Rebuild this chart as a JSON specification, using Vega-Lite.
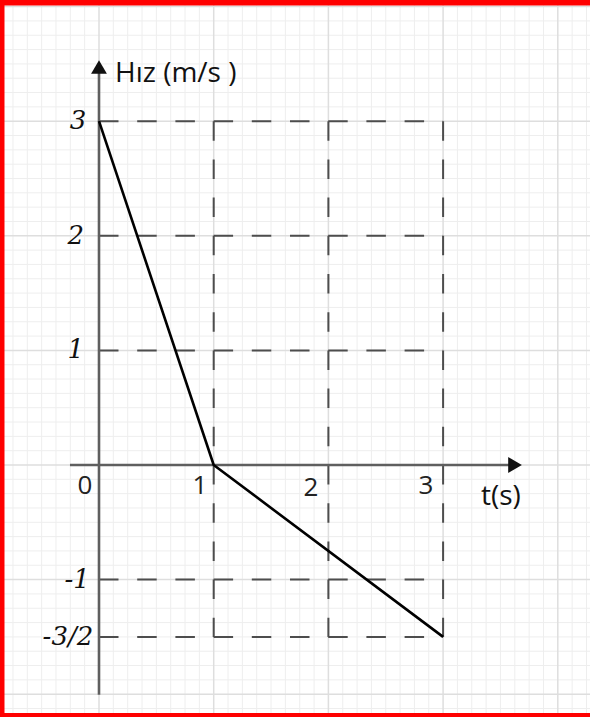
{
  "$schema": "https://vega.github.io/schema/vega-lite/v6.json",
  "width": 590,
  "height": 717,
  "autosize": {"type": "none"},
  "padding": 0,
  "background": "white",
  "config": {"view": {"stroke": null}},
  "datasets": {
    "minorX": [
      {"x": -0.75}, {"x": -0.625}, {"x": -0.5}, {"x": -0.375}, {"x": -0.25}, {"x": -0.125},
      {"x": 0.125}, {"x": 0.25}, {"x": 0.375}, {"x": 0.5}, {"x": 0.625}, {"x": 0.75}, {"x": 0.875},
      {"x": 1.125}, {"x": 1.25}, {"x": 1.375}, {"x": 1.5}, {"x": 1.625}, {"x": 1.75}, {"x": 1.875},
      {"x": 2.125}, {"x": 2.25}, {"x": 2.375}, {"x": 2.5}, {"x": 2.625}, {"x": 2.75}, {"x": 2.875},
      {"x": 3.125}, {"x": 3.25}, {"x": 3.375}, {"x": 3.5}, {"x": 3.625}, {"x": 3.75}, {"x": 3.875},
      {"x": 4.125}, {"x": 4.25}
    ],
    "minorY": [
      {"y": 3.875}, {"y": 3.75}, {"y": 3.625}, {"y": 3.5}, {"y": 3.375}, {"y": 3.25}, {"y": 3.125},
      {"y": 2.875}, {"y": 2.75}, {"y": 2.625}, {"y": 2.5}, {"y": 2.375}, {"y": 2.25}, {"y": 2.125},
      {"y": 1.875}, {"y": 1.75}, {"y": 1.625}, {"y": 1.5}, {"y": 1.375}, {"y": 1.25}, {"y": 1.125},
      {"y": 0.875}, {"y": 0.75}, {"y": 0.625}, {"y": 0.5}, {"y": 0.375}, {"y": 0.25}, {"y": 0.125},
      {"y": -0.125}, {"y": -0.25}, {"y": -0.375}, {"y": -0.5}, {"y": -0.625}, {"y": -0.75}, {"y": -0.875},
      {"y": -1.125}, {"y": -1.25}, {"y": -1.375}, {"y": -1.5}, {"y": -1.625}, {"y": -1.75}, {"y": -1.875},
      {"y": -2.125}
    ],
    "majorX": [{"x": 0}, {"x": 1}, {"x": 2}, {"x": 3}, {"x": 4}],
    "majorY": [{"y": -2}, {"y": -1}, {"y": 0}, {"y": 1}, {"y": 2}, {"y": 3}, {"y": 4}],
    "dashes": [
      {"x": 0, "y": 3, "x2": 3, "y2": 3},
      {"x": 0, "y": 2, "x2": 3, "y2": 2},
      {"x": 0, "y": 1, "x2": 3, "y2": 1},
      {"x": 0, "y": -1, "x2": 3, "y2": -1},
      {"x": 0, "y": -1.5, "x2": 3, "y2": -1.5},
      {"x": 1, "y": 3, "x2": 1, "y2": -1.5},
      {"x": 2, "y": 3, "x2": 2, "y2": -1.5},
      {"x": 3, "y": 3, "x2": 3, "y2": -1.5}
    ],
    "axisLines": [
      {"x": -0.253, "y": 0, "x2": 3.58, "y2": 0},
      {"x": 0, "y": -2.005, "x2": 0, "y2": 3.42}
    ],
    "xArrow": [{"x": 3.627, "y": 0}],
    "yArrow": [{"x": 0, "y": 3.473}],
    "velocity": [
      {"t": 0, "v": 3},
      {"t": 1, "v": 0},
      {"t": 3, "v": -1.5}
    ],
    "yLabels": [
      {"x": -0.11, "y": 3, "label": "3"},
      {"x": -0.13, "y": 2, "label": "2"},
      {"x": -0.13, "y": 1, "label": "1"},
      {"x": -0.08, "y": -1, "label": "-1"},
      {"x": -0.05, "y": -1.5, "label": "-3/2"}
    ],
    "xLabels": [
      {"x": -0.122, "y": -0.253, "label": "0"},
      {"x": 0.881, "y": -0.253, "label": "1"},
      {"x": 1.848, "y": -0.27, "label": "2"},
      {"x": 2.851, "y": -0.253, "label": "3"}
    ],
    "yTitle": [{"x": 0.14, "y": 3.342, "label": "Hız (m/s )"}],
    "xTitle": [{"x": 3.33, "y": -0.349, "label": "t(s)"}],
    "borderTop": [{"x": -0.8631, "y": 4.0336, "x2": 4.2807, "y2": 4.0336}],
    "borderBottom": [{"x": -0.8631, "y": -2.1815, "x2": 4.2807, "y2": -2.1815}],
    "borderLeft": [{"x": -0.8435, "y": 4.0576, "x2": -0.8435, "y2": -2.199}]
  },
  "layer": [
    {
      "data": {"name": "minorX"},
      "mark": {"type": "rule", "color": "#eeeeee", "strokeWidth": 1},
      "encoding": {
        "x": {"field": "x", "type": "quantitative", "axis": null, "scale": {"domain": [-0.8631, 4.2807], "nice": false, "zero": false}}
      }
    },
    {
      "data": {"name": "minorY"},
      "mark": {"type": "rule", "color": "#eeeeee", "strokeWidth": 1},
      "encoding": {
        "y": {"field": "y", "type": "quantitative", "axis": null, "scale": {"domain": [-2.199, 4.0576], "nice": false, "zero": false}}
      }
    },
    {
      "data": {"name": "majorX"},
      "mark": {"type": "rule", "color": "#dedede", "strokeWidth": 1.5},
      "encoding": {
        "x": {"field": "x", "type": "quantitative", "axis": null}
      }
    },
    {
      "data": {"name": "majorY"},
      "mark": {"type": "rule", "color": "#dedede", "strokeWidth": 1.5},
      "encoding": {
        "y": {"field": "y", "type": "quantitative", "axis": null}
      }
    },
    {
      "data": {"name": "dashes"},
      "mark": {"type": "rule", "color": "#4d4d4d", "strokeWidth": 2, "strokeDash": [19.5, 18.7]},
      "encoding": {
        "x": {"field": "x", "type": "quantitative", "axis": null},
        "y": {"field": "y", "type": "quantitative", "axis": null},
        "x2": {"field": "x2"},
        "y2": {"field": "y2"}
      }
    },
    {
      "data": {"name": "axisLines"},
      "mark": {"type": "rule", "color": "#5f5f5f", "strokeWidth": 2.6},
      "encoding": {
        "x": {"field": "x", "type": "quantitative", "axis": null},
        "y": {"field": "y", "type": "quantitative", "axis": null},
        "x2": {"field": "x2"},
        "y2": {"field": "y2"}
      }
    },
    {
      "data": {"name": "xArrow"},
      "mark": {"type": "point", "shape": "triangle-right", "filled": true, "color": "#111111", "opacity": 1, "size": 250, "strokeWidth": 0},
      "encoding": {
        "x": {"field": "x", "type": "quantitative", "axis": null},
        "y": {"field": "y", "type": "quantitative", "axis": null}
      }
    },
    {
      "data": {"name": "yArrow"},
      "mark": {"type": "point", "shape": "triangle-up", "filled": true, "color": "#111111", "opacity": 1, "size": 250, "strokeWidth": 0},
      "encoding": {
        "x": {"field": "x", "type": "quantitative", "axis": null},
        "y": {"field": "y", "type": "quantitative", "axis": null}
      }
    },
    {
      "data": {"name": "velocity"},
      "mark": {"type": "line", "color": "#000000", "strokeWidth": 2.6, "strokeJoin": "round"},
      "encoding": {
        "x": {"field": "t", "type": "quantitative", "axis": null},
        "y": {"field": "v", "type": "quantitative", "axis": null}
      }
    },
    {
      "data": {"name": "yLabels"},
      "mark": {"type": "text", "align": "right", "baseline": "middle", "font": "DejaVu Serif", "fontStyle": "italic", "fontSize": 26, "color": "#111111"},
      "encoding": {
        "x": {"field": "x", "type": "quantitative", "axis": null},
        "y": {"field": "y", "type": "quantitative", "axis": null},
        "text": {"field": "label"}
      }
    },
    {
      "data": {"name": "xLabels"},
      "mark": {"type": "text", "align": "center", "baseline": "alphabetic", "font": "Open Sans", "fontSize": 26, "color": "#222222"},
      "encoding": {
        "x": {"field": "x", "type": "quantitative", "axis": null},
        "y": {"field": "y", "type": "quantitative", "axis": null},
        "text": {"field": "label"}
      }
    },
    {
      "data": {"name": "yTitle"},
      "mark": {"type": "text", "align": "left", "baseline": "alphabetic", "font": "Open Sans", "fontSize": 28, "color": "#111111"},
      "encoding": {
        "x": {"field": "x", "type": "quantitative", "axis": null},
        "y": {"field": "y", "type": "quantitative", "axis": null},
        "text": {"field": "label"}
      }
    },
    {
      "data": {"name": "xTitle"},
      "mark": {"type": "text", "align": "left", "baseline": "alphabetic", "font": "Open Sans", "fontSize": 28, "color": "#111111"},
      "encoding": {
        "x": {"field": "x", "type": "quantitative", "axis": null},
        "y": {"field": "y", "type": "quantitative", "axis": null},
        "text": {"field": "label"}
      }
    },
    {
      "data": {"name": "borderTop"},
      "mark": {"type": "rule", "color": "#ff0000", "strokeWidth": 5.5},
      "encoding": {
        "x": {"field": "x", "type": "quantitative", "axis": null},
        "y": {"field": "y", "type": "quantitative", "axis": null},
        "x2": {"field": "x2"},
        "y2": {"field": "y2"}
      }
    },
    {
      "data": {"name": "borderBottom"},
      "mark": {"type": "rule", "color": "#ff0000", "strokeWidth": 4},
      "encoding": {
        "x": {"field": "x", "type": "quantitative", "axis": null},
        "y": {"field": "y", "type": "quantitative", "axis": null},
        "x2": {"field": "x2"},
        "y2": {"field": "y2"}
      }
    },
    {
      "data": {"name": "borderLeft"},
      "mark": {"type": "rule", "color": "#ff0000", "strokeWidth": 4.5},
      "encoding": {
        "x": {"field": "x", "type": "quantitative", "axis": null},
        "y": {"field": "y", "type": "quantitative", "axis": null},
        "x2": {"field": "x2"},
        "y2": {"field": "y2"}
      }
    }
  ]
}
